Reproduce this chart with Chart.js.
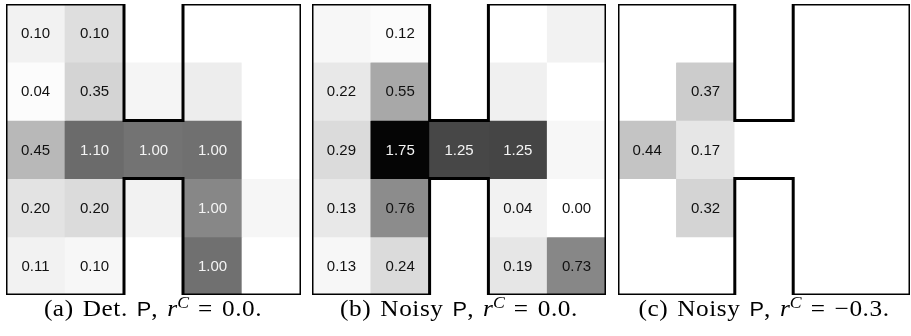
<!DOCTYPE html>
<html lang="en">
<head>
<meta charset="UTF-8">
<title>H maze heatmaps</title>
<style>
  body { margin: 0; background: #fff; width: 911px; height: 336px; position: relative; overflow: hidden; }
  canvas { position: absolute; top: 2px; }
  .cap { position: absolute; top: 296px; width: 300px; text-align: center; white-space: nowrap;
         font-family: "Liberation Serif", serif; font-size: 23px; color: #000;
         letter-spacing: 0.5px; word-spacing: 2px; transform: scaleX(1.1); transform-origin: 50% 50%; }
  .cap .sf { font-family: "Liberation Sans", sans-serif; font-size: 0.86em; letter-spacing: 0; }
  .cap i { font-family: "Liberation Serif", serif; letter-spacing: 0; }
  .cap sup { font-size: 0.7em; vertical-align: 0.5em; line-height: 0; }
</style>
</head>
<body>
<canvas id="pa" width="299" height="295" style="left:4px"></canvas>
<canvas id="pb" width="298" height="295" style="left:310px"></canvas>
<canvas id="pc" width="296" height="295" style="left:616px"></canvas>

<div class="cap" style="left:3px">(a) Det. <span class="sf">P</span>, <i>r</i><sup><i>C</i></sup> = 0.0.</div>
<div class="cap" style="left:309px">(b) Noisy <span class="sf">P</span>, <i>r</i><sup><i>C</i></sup> = 0.0.</div>
<div class="cap" style="left:614px">(c) Noisy <span class="sf">P</span>, <i>r</i><sup><i>C</i></sup> = &minus;0.3.</div>

<script src="https://cdn.jsdelivr.net/npm/chart.js"></script>
<script>
// grid rows go top -> bottom, columns left -> right
// shade = how dark each cell is (0 white .. 1 black), labels = printed value (null = no text)
const shadeA = [
  [0.05, 0.13, 0,    0,    0],
  [0.01, 0.17, 0.04, 0.07, 0],
  [0.28, 0.58, 0.55, 0.56, 0],
  [0.11, 0.14, 0.05, 0.47, 0.035],
  [0.05, 0.03, 0,    0.56, 0]
];
const labelsA = [
  [0.10, 0.10, null, null, null],
  [0.04, 0.35, null, null, null],
  [0.45, 1.10, 1.00, 1.00, null],
  [0.20, 0.20, null, 1.00, null],
  [0.11, 0.10, null, 1.00, null]
];

const shadeB = [
  [0.03, 0.015, 0,    0,    0.05],
  [0.09, 0.34,  0,    0.06, 0],
  [0.14, 0.98,  0.72, 0.73, 0.03],
  [0.09, 0.45,  0,    0.05, 0],
  [0.03, 0.14,  0,    0.10, 0.47]
];
const labelsB = [
  [null, 0.12, null, null, null],
  [0.22, 0.55, null, null, null],
  [0.29, 1.75, 1.25, 1.25, null],
  [0.13, 0.76, null, 0.04, 0.00],
  [0.13, 0.24, null, 0.19, 0.73]
];

const shadeC = [
  [0,    0,    0, 0, 0],
  [0,    0.20, 0, 0, 0],
  [0.23, 0.10, 0, 0, 0],
  [0,    0.17, 0, 0, 0],
  [0,    0,    0, 0, 0]
];
const labelsC = [
  [null, null, null, null, null],
  [null, 0.37, null, null, null],
  [0.44, 0.17, null, null, null],
  [null, 0.32, null, null, null],
  [null, null, null, null, null]
];

// corners of the H-shaped wall, in (column, row) grid units
const mazeWall = [[0,0],[2,0],[2,2],[3,2],[3,0],[5,0],[5,5],[3,5],[3,3],[2,3],[2,5],[0,5],[0,0]];

function grey(s) {
  const g = Math.round(255 * (1 - s));
  return `rgb(${g},${g},${g})`;
}

const cellText = {
  id: 'cellText',
  afterDatasetsDraw(chart) {
    const ctx = chart.ctx;
    const labels = chart.options.plugins.cellText.labels;
    ctx.save();
    ctx.font = '15px "Liberation Sans", Arial, sans-serif';
    ctx.textAlign = 'center';
    ctx.textBaseline = 'middle';
    chart.data.datasets.forEach((ds, di) => {
      if (ds.type !== 'bar') return;
      const row = ds.row;
      chart.getDatasetMeta(di).data.forEach((el, c) => {
        const v = labels[row][c];
        if (v === null) return;
        const p = el.getCenterPoint();
        ctx.fillStyle = v >= 1 ? '#f4f4f4' : '#111';
        ctx.fillText(v.toFixed(2), p.x, p.y + 1);
      });
    });
    ctx.restore();
  }
};

function makePanel(id, shade, labels) {
  const datasets = [{
    type: 'line',
    data: mazeWall.map(p => ({ x: p[0], y: p[1] })),
    borderColor: '#000',
    borderWidth: 3,
    borderJoinStyle: 'miter',
    borderCapStyle: 'square',
    pointRadius: 0,
    fill: false,
    tension: 0,
    order: 0
  }];
  shade.forEach((rowVals, r) => {
    datasets.push({
      type: 'bar',
      row: r,
      data: rowVals.map((s, c) => ({ x: c + 0.5, y: [r, r + 1] })),
      backgroundColor: rowVals.map(grey),
      borderWidth: 0,
      barPercentage: 1,
      categoryPercentage: 1,
      grouped: false,
      order: 1
    });
  });

  new Chart(document.getElementById(id), {
    data: { datasets },
    options: {
      responsive: false,
      animation: false,
      layout: { padding: 2 },
      scales: {
        x: { type: 'linear', min: 0, max: 5, offset: false, display: false },
        y: { type: 'linear', min: 0, max: 5, reverse: true, display: false }
      },
      plugins: {
        legend: { display: false },
        tooltip: { enabled: false },
        cellText: { labels }
      }
    },
    plugins: [cellText]
  });
}

makePanel('pa', shadeA, labelsA);
makePanel('pb', shadeB, labelsB);
makePanel('pc', shadeC, labelsC);
</script>
</body>
</html>
